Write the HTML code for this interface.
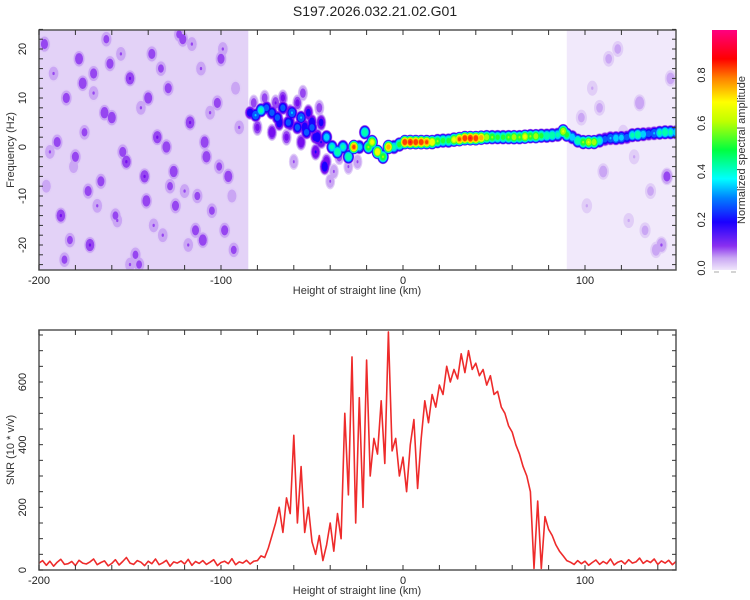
<!DOCTYPE html>
<html><head><meta charset="utf-8"><style>
html,body{margin:0;padding:0;background:#fff;}
svg{display:block;font-family:"Liberation Sans",sans-serif;}
</style></head><body>
<svg id="chart" width="750" height="600" viewBox="0 0 750 600">
<defs>
<linearGradient id="cbar" x1="0" y1="1" x2="0" y2="0">
<stop offset="0" stop-color="#f0e6fb"/><stop offset="0.05" stop-color="#c9a6f3"/>
<stop offset="0.1" stop-color="#8a30f0"/><stop offset="0.2" stop-color="#1a00ff"/>
<stop offset="0.3" stop-color="#0080ff"/><stop offset="0.38" stop-color="#00ffff"/>
<stop offset="0.5" stop-color="#00ff40"/><stop offset="0.62" stop-color="#c0ff00"/>
<stop offset="0.7" stop-color="#ffff00"/><stop offset="0.8" stop-color="#ff8000"/>
<stop offset="0.88" stop-color="#ff0000"/><stop offset="1" stop-color="#ff0080"/>
</linearGradient>
<clipPath id="clipTop"><rect x="39" y="30" width="637" height="240"/></clipPath>
<clipPath id="clipBot"><rect x="39" y="330" width="637" height="240"/></clipPath>
</defs>
<text x="375" y="16" text-anchor="middle" font-size="14" fill="#222">S197.2026.032.21.02.G01</text>
<g id="top"></g>
<g id="bot"></g>
<g id="cb"></g>
</svg>
<script>
// ---- data ----
const snrStartKm = -200;
const snrStepKm = 2;
const snrValues = [22,30,15,28,12,25,34,18,20,27,14,31,22,19,26,35,17,24,29,13,21,33,16,27,40,22,18,30,25,14,28,20,35,17,23,31,12,26,22,29,19,34,15,27,21,30,18,25,33,14,24,28,20,36,17,26,22,31,19,28,
30,45,40,70,110,150,200,120,230,180,430,150,330,120,200,90,50,110,30,80,150,60,180,100,500,240,680,150,550,200,670,300,420,370,540,340,760,380,420,300,360,250,400,480,260,420,540,470,560,520,590,560,650,600,640,610,690,630,700,640,660,620,640,590,620,560,570,520,500,460,440,400,370,330,300,250,5,220,5,170,130,110,80,60,45,30,25,18,30,20,28,15,24,32,18,27,20,35,16,25,29,19,33,22,26,38,21,30,24,35,18,29,22,31,17,27,33];
const xTicks = [-200,-100,0,100];
const freqTicks = [-20,-10,0,10,20];
const snrTicks = [0,200,400,600];
const cbTicks = [0.0,0.2,0.4,0.6,0.8];
const ridgeX = [-84,-81,-78,-75,-72,-69,-66,-63,-61,-58,-56,-53,-50,-48,-45,-42,-39,-36,-33,-30,-27,-24,-21,-19,-17,-14,-11,-8,-5,-2,1,4,7,10,13,16,19,22,25,28,31,34,37,40,43,46,49,52,55,58,61,64,67,70,73,76,79,82,85,88,90,93,96,99,102,105,108,111,114,117,120,123,126,129,132,135,138,141,144,147,150];
const ridgeF = [7,6.5,7.5,8,7,6,8,5,7,4,6,3,4,2,1,2,0,-1,0,-2,0,0,3,0,1,-1,-2,0,0,0.5,1,1,1,1,1,1,1.2,1.3,1.3,1.5,1.6,1.8,1.8,1.8,1.9,2,2,2,2,2,2,2,2.1,2.2,2.2,2.3,2.3,2.4,2.5,3.2,2.5,2,1.3,1,1,1,1.3,1.6,1.8,1.8,1.9,2,2.4,2.5,2.6,2.7,2.8,2.9,3,3,3];
const ridgeA = [0.25,0.35,0.45,0.3,0.3,0.3,0.3,0.3,0.35,0.3,0.35,0.3,0.3,0.25,0.2,0.4,0.45,0.5,0.45,0.5,0.85,0.4,0.5,0.6,0.7,0.75,0.6,0.8,0.45,0.55,0.9,0.92,0.9,0.9,0.85,0.75,0.6,0.55,0.55,0.7,0.85,0.9,0.92,0.9,0.8,0.65,0.6,0.55,0.55,0.6,0.65,0.6,0.7,0.6,0.65,0.55,0.5,0.5,0.45,0.68,0.55,0.4,0.5,0.6,0.68,0.65,0.45,0.3,0.35,0.4,0.38,0.3,0.45,0.5,0.4,0.3,0.35,0.45,0.5,0.45,0.4];
const hazeX = [-82,-80,-76,-72,-70,-66,-64,-62,-60,-58,-56,-55,-52,-50,-48,-46,-45,-43,-42,-40,-38,-35,-62,-68,-54,-47,-30,-25];
const hazeF = [9,4,10,3,9,10,2,7,-3,9,1,11,7,5,-1,8,5,-4,-3,-7,-5,-2,5,5,4,2,-4,-3];
const hazeA = [0.12,0.15,0.12,0.18,0.14,0.15,0.15,0.22,0.1,0.15,0.18,0.12,0.22,0.25,0.2,0.12,0.22,0.25,0.18,0.1,0.1,0.12,0.25,0.25,0.25,0.25,0.1,0.1];
const noiseX = [-197,-192,-188,-185,-181,-178,-175,-172,-170,-166,-163,-160,-157,-154,-150,-147,-144,-141,-138,-135,-132,-129,-126,-123,-120,-117,-114,-111,-108,-105,-102,-99,-96,-93,-90,-196,-190,-183,-176,-168,-161,-152,-145,-137,-130,-121,-113,-106,-98,-92,-194,-186,-173,-164,-155,-142,-133,-125,-116,-109,-101,-94,-180,-158,-140,-118,-100,-170,-150,-128,-110,98,104,110,118,124,130,136,142,147,101,113,127,139,108,121,133,145];
const noiseF = [21,15,-14,10,-4,18,3,-20,11,-7,22,6,-15,-1,14,-22,8,-11,19,2,-18,12,-5,23,-9,5,-17,16,-2,-13,9,20,-6,-21,4,-8,1,-19,13,-12,17,-3,-24,-16,0,22,-10,7,-17,12,-1,-23,-9,7,19,-6,16,-12,21,1,-4,-10,-2,-14,10,-20,18,15,-24,-8,-19,6,12,-5,20,-15,9,-9,-20,14,-12,18,-2,-21,8,3,-17,-6];
const noiseA = [0.12,0.1,0.14,0.12,0.09,0.13,0.11,0.14,0.1,0.12,0.11,0.13,0.1,0.12,0.14,0.11,0.1,0.13,0.12,0.14,0.1,0.12,0.13,0.11,0.1,0.14,0.12,0.1,0.13,0.11,0.12,0.1,0.13,0.11,0.1,0.09,0.12,0.11,0.13,0.1,0.12,0.14,0.11,0.1,0.13,0.12,0.11,0.1,0.12,0.09,0.1,0.11,0.12,0.13,0.1,0.14,0.11,0.12,0.1,0.13,0.11,0.09,0.12,0.11,0.13,0.1,0.12,0.12,0.1,0.11,0.13,0.07,0.06,0.08,0.07,0.06,0.09,0.07,0.1,0.08,0.06,0.07,0.06,0.08,0.07,0.06,0.07,0.12];

const NS='http://www.w3.org/2000/svg';
function mk(tag,attrs,parent){const e=document.createElementNS(NS,tag);for(const k in attrs)e.setAttribute(k,attrs[k]);parent.appendChild(e);return e;}
const L=39,R=676;
const xs=km=>L+(km+200)*(R-L)/350;
const fy=f=>147-f*4.9;
const sy=v=>570-v*(240/766);
const topG=document.getElementById('top'),botG=document.getElementById('bot'),cbG=document.getElementById('cb');

const stops=[[0,[240,230,251]],[0.05,[215,190,245]],[0.1,[150,70,240]],[0.15,[110,0,240]],[0.2,[26,0,255]],[0.3,[0,128,255]],[0.38,[0,255,255]],[0.5,[0,255,64]],[0.62,[192,255,0]],[0.7,[255,255,0]],[0.8,[255,128,0]],[0.88,[255,0,0]],[1,[255,0,128]]];
function cmap(v){for(let i=1;i<stops.length;i++){if(v<=stops[i][0]){const a=stops[i-1],b=stops[i],t=(v-a[0])/(b[0]-a[0]);const c=a[1].map((x,j)=>Math.round(x+(b[1][j]-x)*t));return 'rgb('+c.join(',')+')';}}return 'rgb(255,0,128)';}

const hm=mk('g',{'clip-path':'url(#clipTop)'},topG);
const bgL=mk('rect',{x:xs(-200),y:30,width:xs(-85)-xs(-200),height:240,fill:'#e3d2f7'},hm);


const bgR=mk('rect',{x:xs(90),y:30,width:xs(150)-xs(90),height:240,fill:'#f1e9fb'},hm);


const levels=[0.03,0.06,0.1,0.14,0.2,0.27,0.35,0.43,0.52,0.6,0.68,0.76,0.84,0.92];
const blobs=[];
for(let i=0;i<noiseX.length;i++)blobs.push({x:noiseX[i],f:noiseF[i],a:noiseA[i],rx:3.2,ry:1.7,n:'noise-blob'});
for(let i=0;i<hazeX.length;i++)blobs.push({x:hazeX[i],f:hazeF[i],a:hazeA[i],rx:2.6,ry:1.6,n:'haze-blob'});
for(let i=0;i<Math.min(ridgeX.length,ridgeF.length,ridgeA.length);i++)blobs.push({x:ridgeX[i],f:ridgeF[i],a:ridgeA[i],rx:2.8,ry:1.3,n:'ridge-blob'});
for(const lv of levels){
  const g=mk('g',{},hm);
  for(const b of blobs){
    if(b.a<lv)continue;
    const s=Math.sqrt(1-lv/b.a)+0.2;
    const e=mk('ellipse',{cx:xs(b.x),cy:fy(b.f),rx:b.rx*1.82*s,ry:b.ry*4.9*s,fill:cmap(lv)},g);
    
    
  }
}
function frame(parent,y0,y1){
  const r=mk('rect',{x:L,y:y0,width:R-L,height:y1-y0,fill:'none',stroke:'#555','stroke-width':1.5},parent);
  
  
  for(let km=-200;km<=150;km+=20){const x=xs(km);mk('line',{x1:x,y1:y1,x2:x,y2:y1-5,stroke:'#333'},parent);mk('line',{x1:x,y1:y0,x2:x,y2:y0+5,stroke:'#333'},parent);}
  for(const t of xTicks){
    const tx=mk('text',{x:xs(t),y:y1+14,'text-anchor':'middle','font-size':11,fill:'#222'},parent);tx.textContent=t;
    
    
  }
  const xl=mk('text',{x:357,y:y1+24,'text-anchor':'middle','font-size':11,fill:'#333'},parent);xl.textContent='Height of straight line (km)';
  
  
}
frame(topG,30,270);
for(let f=-24;f<=24;f+=2){const y=fy(f);mk('line',{x1:L,y1:y,x2:L+4,y2:y,stroke:'#333'},topG);mk('line',{x1:R,y1:y,x2:R-4,y2:y,stroke:'#333'},topG);}
for(const t of freqTicks){
  const y=fy(t);const tx=mk('text',{x:26,y:y,'text-anchor':'middle','font-size':11,fill:'#222',transform:`rotate(-90 26 ${y})`},topG);tx.textContent=t;
  
  
}
const yl=mk('text',{x:14,y:150,'text-anchor':'middle','font-size':11,fill:'#333',transform:'rotate(-90 14 150)'},topG);yl.textContent='Frequency (Hz)';



const lg=mk('g',{'clip-path':'url(#clipBot)'},botG);
let d='';
snrValues.forEach((v,i)=>{d+=(i?'L':'M')+xs(snrStartKm+i*snrStepKm).toFixed(1)+' '+sy(v).toFixed(1);});
const p=mk('path',{d:d,fill:'none',stroke:'#ee2b2b','stroke-width':1.6,'stroke-linejoin':'round'},lg);


frame(botG,330,570);
for(let v=0;v<=750;v+=50){const y=sy(v);mk('line',{x1:L,y1:y,x2:L+4,y2:y,stroke:'#333'},botG);mk('line',{x1:R,y1:y,x2:R-4,y2:y,stroke:'#333'},botG);}
for(const t of snrTicks){
  const y=sy(t);const tx=mk('text',{x:26,y:y,'text-anchor':'middle','font-size':11,fill:'#222',transform:`rotate(-90 26 ${y})`},botG);tx.textContent=t;
  
  
}
const yl2=mk('text',{x:14,y:450,'text-anchor':'middle','font-size':11,fill:'#333',transform:'rotate(-90 14 450)'},botG);yl2.textContent='SNR (10 * v/v)';



const cy=v=>268-v*(268-75)/0.8;
const cr=mk('rect',{x:712,y:30,width:25,height:240,fill:'url(#cbar)'},cbG);


for(const t of cbTicks){
  const y=cy(t);const tx=mk('text',{x:705,y:y,'text-anchor':'middle','font-size':11,fill:'#222',transform:`rotate(-90 705 ${y})`},cbG);tx.textContent=t.toFixed(1);
  
  
}
mk('line',{x1:714,y1:272,x2:719,y2:272,stroke:'#aaa'},cbG);mk('line',{x1:731,y1:272,x2:736,y2:272,stroke:'#aaa'},cbG);
const ct=mk('text',{x:745,y:150,'text-anchor':'middle','font-size':11,fill:'#333',transform:'rotate(-90 745 150)'},cbG);ct.textContent='Normalized spectral amplitude';


</script>
</body></html>
